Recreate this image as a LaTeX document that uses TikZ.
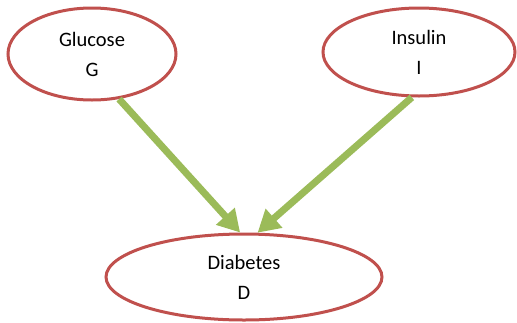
\documentclass[tikz,border=0pt]{standalone}
\usepackage{fontspec}
\setmainfont{Carlito}
\usetikzlibrary{shapes.geometric,arrows.meta}
\definecolor{nodered}{HTML}{C0504D}
\definecolor{linkgreen}{HTML}{9BBB59}
\begin{document}
\begin{tikzpicture}[x=1pt,y=-1pt,
  every node/.style={font=\fontsize{20.5}{30}\selectfont},
  var/.style={draw=nodered,line width=3pt,ellipse,inner sep=0pt,align=center},
  link/.style={draw=linkgreen,line width=7pt,-{Triangle[length=22pt,width=24pt]}}]
  \useasboundingbox (0,0) rectangle (517,322);
  \node[var,minimum width=168pt,minimum height=92pt] (glucose) at (92,54) {Glucose\\G};
  \node[var,minimum width=192pt,minimum height=88pt] (insulin) at (419,52) {Insulin\\I};
  \node[var,minimum width=276pt,minimum height=86pt] (diabetes) at (244,277) {Diabetes\\D};
  \draw[link] (glucose.-59) -- (diabetes.95);
  \draw[link] (insulin.-99) -- (diabetes.73);
\end{tikzpicture}
\end{document}
